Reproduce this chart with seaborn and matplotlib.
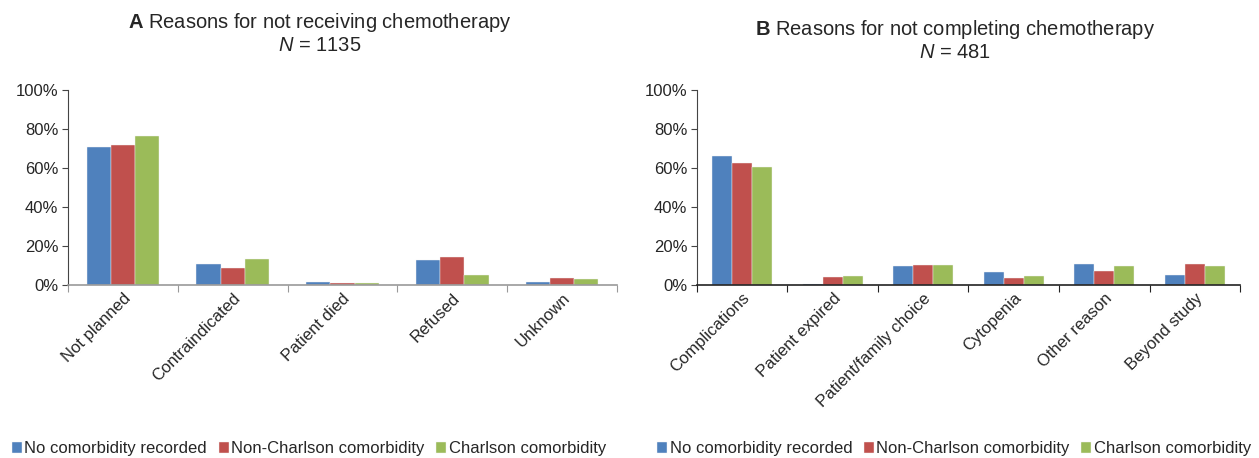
import pandas as pd
import matplotlib
matplotlib.use('Agg')
import matplotlib.pyplot as plt
import seaborn as sns
import numpy as np
from matplotlib.ticker import PercentFormatter

# panel A: reasons for not receiving chemotherapy (%)
reasons_a = ["Not planned", "Contraindicated", "Patient died", "Refused", "Unknown"]
none_a = [71.0, 11.0, 1.4, 13.0, 1.7]
non_charlson_a = [72.0, 8.6, 0.8, 14.3, 3.4]
charlson_a = [76.5, 13.2, 0.8, 5.3, 2.9]

# panel B: reasons for not completing chemotherapy (%)
reasons_b = ["Complications", "Patient expired", "Patient/family choice",
             "Cytopenia", "Other reason", "Beyond study"]
none_b = [66.0, 0.6, 9.8, 6.5, 10.6, 5.2]
non_charlson_b = [62.4, 3.9, 10.3, 3.6, 7.4, 10.8]
charlson_b = [60.3, 4.5, 10.3, 4.5, 9.5, 9.5]

groups = ["No comorbidity recorded", "Non-Charlson comorbidity", "Charlson comorbidity"]
colors = ["#4F81BD", "#C0504D", "#9BBB59"]


def to_long(reasons, series):
    rows = []
    for g, vals in zip(groups, series):
        for r, v in zip(reasons, vals):
            rows.append({"reason": r, "group": g, "pct": v})
    return pd.DataFrame(rows)


sns.set_style("white")
plt.rcParams['font.family'] = ['Liberation Sans', 'DejaVu Sans']
plt.rcParams['mathtext.fontset'] = 'custom'
plt.rcParams['mathtext.rm'] = 'Liberation Sans'
plt.rcParams['mathtext.it'] = 'Liberation Sans:italic'
plt.rcParams['mathtext.bf'] = 'Liberation Sans:bold'

fig = plt.figure(figsize=(12.59, 4.58), dpi=100)
W, H = 1259, 458
ax_a = fig.add_axes([68 / W, 1 - 285 / H, (617 - 68) / W, (285 - 90) / H])
ax_b = fig.add_axes([697 / W, 1 - 285 / H, (1240 - 697) / W, (285 - 90) / H])

panels = [
    (ax_a, reasons_a, [none_a, non_charlson_a, charlson_a],
     r"$\mathbf{A}$ Reasons for not receiving chemotherapy" + "\n" + r"$\mathit{N}$ = 1135",
     320, 33, "#999999"),
    (ax_b, reasons_b, [none_b, non_charlson_b, charlson_b],
     r"$\mathbf{B}$ Reasons for not completing chemotherapy" + "\n" + r"$\mathit{N}$ = 481",
     955, 40, "#222222"),
]

for ax, reasons, series, title, tx, ty, base_color in panels:
    df = to_long(reasons, series)
    sns.barplot(data=df, x="reason", y="pct", hue="group", palette=colors,
                saturation=1, width=0.66, edgecolor="#f4f4f4", linewidth=0.3, ax=ax)
    ax.set_ylim(0, 100)
    ax.set_xlim(-0.5, len(reasons) - 0.5)
    ax.set_yticks(np.arange(0, 101, 20))
    ax.yaxis.set_major_formatter(PercentFormatter(decimals=0))
    ax.set_xlabel("")
    ax.set_ylabel("")
    ax.tick_params(axis='y', labelsize=12, length=4, width=0.8, color='#444444', left=True, pad=3)
    ax.tick_params(axis='x', which='major', length=0, labelsize=12, pad=4)
    ax.set_xticks(np.arange(len(reasons)))
    ax.set_xticklabels(reasons, rotation=45, ha='right', rotation_mode='anchor')
    ax.set_xticks(np.arange(len(reasons) + 1) - 0.5, minor=True)
    ax.tick_params(axis='x', which='minor', length=5, width=0.8, color=base_color, bottom=True)
    for s in ["top", "right"]:
        ax.spines[s].set_visible(False)
    ax.spines["left"].set_color("#444444")
    ax.spines["left"].set_linewidth(0.8)
    ax.spines["bottom"].set_color(base_color)
    ax.spines["bottom"].set_linewidth(1.2)
    handles, labels = ax.get_legend_handles_labels()
    ax.get_legend().remove()
    fig.text(tx / W, 1 - ty / H, title, ha='center', va='center', fontsize=14.5, linespacing=1.1)

    if ax is ax_a:
        anchor = (12 / W, 1 - 449 / H)
    else:
        anchor = (657 / W, 1 - 449 / H)
    fig.legend(handles, labels, loc='center left', bbox_to_anchor=anchor, ncol=3,
               frameon=False, fontsize=12, handlelength=0.6, handleheight=0.6,
               handletextpad=0.15, columnspacing=0.7, borderpad=0, borderaxespad=0)

fig.savefig("out.png", dpi=100)
